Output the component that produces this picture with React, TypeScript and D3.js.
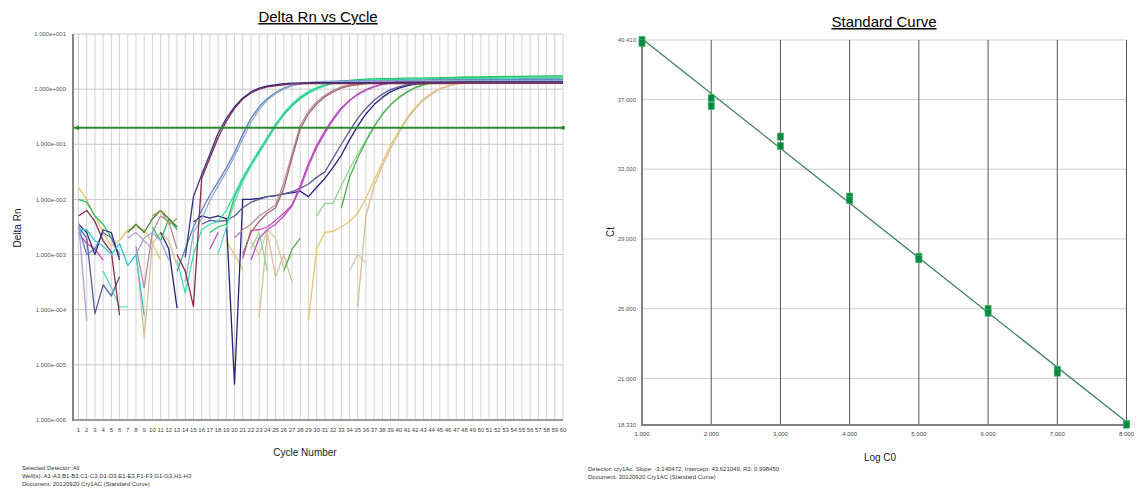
import React from 'react';
import * as d3 from 'd3';

const _ = null;

// ---------- Amplification plot data (log10 Delta Rn per cycle 1..60, null = not plotted) ----------
const cycles: number[] = [
  1, 2, 3, 4, 5, 6, 7, 8, 9, 10, 11, 12, 13, 14, 15, 16, 17, 18, 19, 20,
  21, 22, 23, 24, 25, 26, 27, 28, 29, 30, 31, 32, 33, 34, 35, 36, 37, 38, 39, 40,
  41, 42, 43, 44, 45, 46, 47, 48, 49, 50, 51, 52, 53, 54, 55, 56, 57, 58, 59, 60,
];
const xTickLabels: string[] = cycles.map(String);
const yTickValues: number[] = [10, 1, 0.1, 0.01, 0.001, 0.0001, 0.00001, 0.000001];
const yTickLabels: string[] = ['1.000e+001', '1.000e+000', '1.000e-001', '1.000e-002', '1.000e-003', '1.000e-004', '1.000e-005', '1.000e-006'];
const threshold = 0.2;

const wellA1 = [
  -2.45, -2.6, -3.0, -2.55, -2.6, -3.1, _, _, _, _,
  _, _, _, -3.05, -1.95, -1.55, -1.18, -0.8, -0.53, -0.32,
  -0.16, -0.05, 0.02, 0.06, 0.08, 0.1, 0.11, 0.115, 0.12, 0.12,
  0.12, 0.12, 0.12, 0.12, 0.12, 0.12, 0.12, 0.12, 0.12, 0.125,
  0.125, 0.125, 0.125, 0.125, 0.125, 0.125, 0.13, 0.13, 0.13, 0.13,
  0.13, 0.13, 0.13, 0.13, 0.13, 0.13, 0.13, 0.13, 0.13, 0.13,
];
const wellA2 = [
  -2.3, -2.2, -2.4, -2.75, -2.95, -4.1, _, _, _, _,
  _, _, -3.0, -3.3, -3.94, -1.62, -1.25, -0.88, -0.58, -0.35,
  -0.18, -0.07, 0.0, 0.04, 0.06, 0.08, 0.09, 0.095, 0.1, 0.1,
  0.1, 0.1, 0.1, 0.1, 0.1, 0.1, 0.1, 0.1, 0.1, 0.1,
  0.1, 0.1, 0.1, 0.1, 0.1, 0.1, 0.105, 0.105, 0.105, 0.105,
  0.105, 0.105, 0.105, 0.105, 0.105, 0.105, 0.105, 0.105, 0.105, 0.105,
];
const wellB1 = [
  -2.5, -3.0, -2.9, -2.6, -2.7, -3.05, _, _, _, _,
  _, _, -3.3, -2.9, -2.5, -2.2, -1.92, -1.68, -1.43, -1.15,
  -0.82, -0.53, -0.32, -0.17, -0.06, 0.02, 0.07, 0.1, 0.12, 0.13,
  0.14, 0.14, 0.15, 0.15, 0.15, 0.15, 0.155, 0.155, 0.16, 0.16,
  0.16, 0.16, 0.16, 0.165, 0.165, 0.165, 0.165, 0.17, 0.17, 0.17,
  0.17, 0.17, 0.17, 0.17, 0.17, 0.17, 0.17, 0.17, 0.17, 0.17,
];
const wellB2 = [
  _, _, _, _, _, _, _, -3.0, -2.7, -2.6,
  -2.75, -3.1, _, -3.5, -2.6, -2.35, -2.02, -1.76, -1.5, -1.22,
  -0.9, -0.6, -0.37, -0.2, -0.08, 0.0, 0.06, 0.09, 0.11, 0.13,
  0.13, 0.14, 0.14, 0.14, 0.145, 0.145, 0.145, 0.15, 0.15, 0.15,
  0.15, 0.15, 0.155, 0.155, 0.155, 0.155, 0.155, 0.16, 0.16, 0.16,
  0.16, 0.16, 0.16, 0.16, 0.16, 0.16, 0.16, 0.16, 0.16, 0.16,
];
const wellC1 = [
  -2.0, -2.05, -2.3, -2.45, -2.7, -3.0, _, _, _, -2.5,
  -2.75, -2.35, -2.55, _, _, _, -2.6, -2.5, -2.45, -1.95,
  -1.63, -1.36, -1.13, -0.89, -0.65, -0.45, -0.29, -0.16, -0.06, 0.02,
  0.07, 0.11, 0.14, 0.16, 0.17, 0.18, 0.185, 0.19, 0.19, 0.195,
  0.2, 0.2, 0.2, 0.205, 0.21, 0.21, 0.215, 0.22, 0.22, 0.22,
  0.225, 0.225, 0.23, 0.23, 0.23, 0.235, 0.235, 0.24, 0.24, 0.24,
];
const wellC2 = [
  _, _, _, _, _, _, _, _, _, _,
  _, _, -3.1, -3.7, -3.0, -2.55, -2.45, -2.4, -2.2, -1.9,
  -1.6, -1.35, -1.1, -0.87, -0.63, -0.43, -0.27, -0.14, -0.04, 0.03,
  0.08, 0.12, 0.14, 0.15, 0.16, 0.165, 0.17, 0.17, 0.175, 0.175,
  0.18, 0.18, 0.18, 0.185, 0.185, 0.185, 0.19, 0.19, 0.19, 0.19,
  0.195, 0.195, 0.195, 0.195, 0.2, 0.2, 0.2, 0.2, 0.2, 0.2,
];
const wellC3 = [
  _, _, _, -3.3, -3.6, -3.95, -3.95, _, _, _,
  _, _, _, _, _, _, _, -3.0, -2.5, -2.05,
  -1.68, -1.4, -1.16, -0.92, -0.68, -0.47, -0.31, -0.18, -0.08, 0.0,
  0.06, 0.1, 0.13, 0.15, 0.16, 0.17, 0.175, 0.18, 0.18, 0.185,
  0.19, 0.19, 0.19, 0.195, 0.195, 0.2, 0.2, 0.2, 0.205, 0.205,
  0.21, 0.21, 0.21, 0.215, 0.215, 0.215, 0.22, 0.22, 0.22, 0.22,
];
const wellD1 = [
  _, _, _, _, _, _, _, -2.85, -3.6, -2.6,
  -2.3, -2.4, -2.9, _, _, _, _, _, _, -2.7,
  -2.55, -2.45, -2.3, -2.2, -2.1, -1.7, -1.18, -0.66, -0.4, -0.23,
  -0.11, -0.02, 0.04, 0.08, 0.1, 0.12, 0.13, 0.135, 0.14, 0.14,
  0.14, 0.145, 0.145, 0.145, 0.15, 0.15, 0.15, 0.15, 0.155, 0.155,
  0.155, 0.155, 0.155, 0.16, 0.16, 0.16, 0.16, 0.16, 0.16, 0.16,
];
const wellD2 = [
  _, _, _, _, _, _, _, _, _, _,
  _, _, _, _, _, _, _, _, _, _,
  -3.0, -2.6, -2.4, -2.25, -2.15, -1.8, -1.25, -0.72, -0.45, -0.27,
  -0.14, -0.05, 0.02, 0.06, 0.08, 0.1, 0.11, 0.11, 0.115, 0.115,
  0.115, 0.115, 0.12, 0.12, 0.12, 0.12, 0.12, 0.12, 0.12, 0.12,
  0.12, 0.12, 0.12, 0.12, 0.12, 0.12, 0.12, 0.12, 0.12, 0.12,
];
const wellE1 = [
  -2.6, -2.8, -2.9, -3.1, _, _, _, _, _, _,
  _, _, _, _, _, _, _, _, _, _,
  -3.07, -2.56, -2.55, -2.5, -2.38, -2.25, -2.1, -1.75, -1.35, -1.02,
  -0.76, -0.53, -0.34, -0.2, -0.09, -0.01, 0.05, 0.09, 0.12, 0.14,
  0.15, 0.16, 0.165, 0.17, 0.17, 0.175, 0.175, 0.18, 0.18, 0.18,
  0.185, 0.185, 0.185, 0.185, 0.19, 0.19, 0.19, 0.19, 0.19, 0.19,
];
const wellE2 = [
  _, _, _, _, _, _, _, _, _, _,
  _, _, _, _, _, _, -2.9, -2.6, _, _,
  _, -3.1, -2.7, -2.55, -2.45, -2.3, -2.12, -1.8, -1.4, -1.06,
  -0.8, -0.56, -0.36, -0.21, -0.1, -0.02, 0.04, 0.08, 0.11, 0.13,
  0.14, 0.15, 0.155, 0.16, 0.16, 0.165, 0.165, 0.17, 0.17, 0.17,
  0.175, 0.175, 0.175, 0.175, 0.18, 0.18, 0.18, 0.18, 0.18, 0.18,
];
const wellF1 = [
  _, _, _, _, _, _, _, _, _, _,
  -2.6, -2.9, -3.97, _, -2.41, -2.3, -2.34, -2.3, -2.35, -5.35,
  -2.0, -2.0, -1.98, -1.95, -1.93, -1.9, -1.88, -1.85, -1.95, -1.78,
  -1.62, -1.42, -1.2, -0.92, -0.67, -0.45, -0.28, -0.15, -0.05, 0.02,
  0.06, 0.09, 0.1, 0.11, 0.12, 0.12, 0.125, 0.125, 0.13, 0.13,
  0.13, 0.13, 0.13, 0.13, 0.135, 0.135, 0.135, 0.135, 0.135, 0.135,
];
const wellF2 = [
  -2.5, -2.7, -4.07, -3.55, -3.75, -3.4, _, _, _, _,
  _, _, _, _, _, -2.45, -2.38, -2.4, -2.38, -2.3,
  -2.15, -2.05, -2.0, -1.95, -1.93, -1.9, -1.86, -1.8, -1.72, -1.6,
  -1.5, -1.25, -1.0, -0.76, -0.53, -0.35, -0.2, -0.09, -0.01, 0.04,
  0.08, 0.1, 0.11, 0.12, 0.12, 0.125, 0.125, 0.13, 0.13, 0.13,
  0.13, 0.13, 0.135, 0.135, 0.135, 0.135, 0.14, 0.14, 0.14, 0.14,
];
const wellF3 = [
  _, _, _, _, _, _, _, _, _, _,
  _, _, _, _, _, _, _, _, _, _,
  _, -2.75, -3.0, -2.55, -2.7, -3.25, -3.0, _, _, _,
  _, _, _, -3.3, -3.0, -3.15, _, _, _, _,
  _, _, _, _, _, _, _, _, _, _,
  _, _, _, _, _, _, _, _, _, _,
];
const wellG1 = [
  _, _, _, _, _, _, _, _, _, _,
  _, _, _, _, _, _, _, _, _, _,
  _, -2.9, -2.6, -3.3, _, _, _, _, _, -2.3,
  -2.07, -2.07, -1.75, -1.45, -1.18, -0.92, -0.68, -0.46, -0.29, -0.16,
  -0.06, 0.02, 0.07, 0.11, 0.14, 0.16, 0.17, 0.18, 0.185, 0.19,
  0.195, 0.2, 0.2, 0.205, 0.21, 0.21, 0.215, 0.215, 0.22, 0.22,
];
const wellG2 = [
  _, _, _, _, _, _, _, _, _, _,
  _, _, _, _, _, _, _, _, _, _,
  _, _, _, _, _, -3.3, -2.9, -2.7, _, _,
  _, _, -2.16, -1.6, -1.25, -0.95, -0.68, -0.45, -0.28, -0.15,
  -0.05, 0.03, 0.08, 0.12, 0.14, 0.15, 0.16, 0.17, 0.175, 0.18,
  0.18, 0.185, 0.185, 0.19, 0.19, 0.195, 0.195, 0.2, 0.2, 0.2,
];
const wellH1 = [
  -1.78, -2.0, -2.3, -2.6, -2.85, -2.74, -2.55, -2.5, -2.55, -2.8,
  -3.1, _, _, _, _, _, _, _, -2.75, -3.0,
  -3.28, _, _, _, _, _, _, _, -4.2, -2.9,
  -2.6, -2.58, -2.5, -2.4, -2.25, -1.98, -1.65, -1.33, -1.02, -0.76,
  -0.52, -0.33, -0.18, -0.07, 0.01, 0.06, 0.09, 0.11, 0.12, 0.13,
  0.13, 0.135, 0.14, 0.14, 0.14, 0.145, 0.145, 0.15, 0.15, 0.15,
];
const wellH2 = [
  _, _, _, _, _, _, _, -2.9, -4.5, -2.8,
  -2.6, -2.75, -3.2, _, _, _, _, _, _, _,
  _, _, -4.14, -2.6, -3.4, -3.0, -3.5, _, _, _,
  _, _, _, _, -3.95, -2.3, -1.75, -1.4, -1.08, -0.8,
  -0.55, -0.36, -0.2, -0.09, 0.0, 0.05, 0.09, 0.11, 0.12, 0.13,
  0.135, 0.14, 0.14, 0.145, 0.15, 0.15, 0.155, 0.155, 0.16, 0.16,
];
const wellA3 = [
  -2.55, -2.55, -2.75, -2.85, -3.0, -2.8, -3.2, -3.0, -4.1, _,
  _, _, _, _, _, _, _, _, _, _,
  _, _, _, _, _, _, _, _, _, _,
  _, _, _, _, _, _, _, _, _, _,
  _, _, _, _, _, _, _, _, _, _,
  _, _, _, _, _, _, _, _, _, _,
];
const wellB3 = [
  -2.4, -4.2, _, _, _, _, -2.7, -2.6, -2.75, -2.9,
  _, _, _, _, _, _, _, _, _, _,
  _, _, _, _, _, _, _, _, _, _,
  _, _, _, _, _, _, _, _, _, _,
  _, _, _, _, _, _, _, _, _, _,
  _, _, _, _, _, _, _, _, _, _,
];
const wellD3 = [
  _, _, _, _, _, _, -2.6, -2.45, -2.6, -2.35,
  -2.2, -2.35, -2.5, _, _, _, _, _, _, _,
  _, _, _, _, _, _, _, _, _, _,
  _, _, _, _, _, _, _, _, _, _,
  _, _, _, _, _, _, _, _, _, _,
  _, _, _, _, _, _, _, _, _, _,
];
const wellE3 = [
  _, _, _, _, _, _, _, _, _, -2.3,
  -2.2, -2.45, -2.35, _, _, _, _, _, _, _,
  _, _, _, _, _, _, _, _, _, _,
  _, _, _, _, _, _, _, _, _, _,
  _, _, _, _, _, _, _, _, _, _,
  _, _, _, _, _, _, _, _, _, _,
];

const wells = [
  { name: 'F3', color: '#dcc7a4', values: wellF3 },
  { name: 'H1', color: '#e6c46e', values: wellH1 },
  { name: 'H2', color: '#d9bd96', values: wellH2 },
  { name: 'G1', color: '#8fd88f', values: wellG1 },
  { name: 'G2', color: '#4caf50', values: wellG2 },
  { name: 'F1', color: '#24237a', values: wellF1 },
  { name: 'F2', color: '#585c96', values: wellF2 },
  { name: 'E1', color: '#d23fb4', values: wellE1 },
  { name: 'E2', color: '#b052c8', values: wellE2 },
  { name: 'D1', color: '#b88a9c', values: wellD1 },
  { name: 'D2', color: '#9c6a60', values: wellD2 },
  { name: 'C3', color: '#5fd9c4', values: wellC3 },
  { name: 'C1', color: '#22c35c', values: wellC1 },
  { name: 'C2', color: '#3de0a8', values: wellC2 },
  { name: 'B1', color: '#5b7fc4', values: wellB1 },
  { name: 'B2', color: '#93a9cc', values: wellB2 },
  { name: 'A2', color: '#8b2a4a', values: wellA2 },
  { name: 'A1', color: '#3b2e7e', values: wellA1 },
  { name: 'A3', color: '#35c6d6', values: wellA3 },
  { name: 'B3', color: '#b8a0d8', values: wellB3 },
  { name: 'D3', color: '#3a7a3a', values: wellD3 },
  { name: 'E3', color: '#9aa050', values: wellE3 },
];

// ---------- Standard curve data ----------
const logC0: number[] = [1, 1, 2, 2, 3, 3, 4, 4, 5, 5, 6, 6, 7, 7, 8, 8];
const ctValues: number[] = [40.41, 40.25, 37.07, 36.63, 34.87, 34.33, 31.43, 31.24, 27.98, 27.84, 24.99, 24.77, 21.49, 21.33, 18.4, 18.35];
const slope = -3.140472;
const intercept = 43.621049;
const scXTicks: number[] = [1, 2, 3, 4, 5, 6, 7, 8];
const scXTickLabels: string[] = ['1.000', '2.000', '3.000', '4.000', '5.000', '6.000', '7.000', '8.000'];
const scYTicks: number[] = [40.41, 37, 33, 29, 25, 21, 18.33];
const scYTickLabels: string[] = ['40.410', '37.000', '33.000', '29.000', '25.000', '21.000', '18.330'];

const FONT = 'Arial, "Liberation Sans", sans-serif';

export default function App() {
  // Left chart scales
  const L = { left: 73, right: 563, top: 34, bottom: 420 };
  const xL = d3.scaleLinear().domain([1, 60]).range([78.5, 563]);
  const yL = d3.scaleLog().domain([1e-6, 10]).range([L.bottom, L.top]);
  const line = d3
    .line<number | null>()
    .defined((v) => v !== null)
    .x((_v, i) => xL(cycles[i]))
    .y((v) => yL(Math.pow(10, v as number)));

  // Right chart scales
  const R = { left: 642, right: 1126.5, top: 40, bottom: 425 };
  const xR = d3.scaleLinear().domain([1, 8]).range([R.left, R.right]);
  const yR = d3.scaleLinear().domain([18.33, 40.41]).range([R.bottom, R.top]);

  const thY = yL(threshold);

  return (
    <svg width={1137} height={498} style={{ position: 'absolute', left: 0, top: 0, background: '#fff' }} fontFamily={FONT}>
      <rect x={0} y={0} width={1137} height={498} fill="#fff" />
      <defs>
        <clipPath id="clipL">
          <rect x={L.left} y={L.top - 1} width={L.right - L.left + 1} height={L.bottom - L.top + 1} />
        </clipPath>
      </defs>

      {/* ===== Left chart ===== */}
      <text x={318} y={22} textAnchor="middle" fontSize={15} fill="#000" textDecoration="underline">Delta Rn vs Cycle</text>
      {cycles.map((c) => (
        <line key={'vg' + c} x1={xL(c)} x2={xL(c)} y1={L.top} y2={L.bottom} stroke="#d2d2d2" strokeWidth={1} />
      ))}
      {yTickValues.map((v) => (
        <line key={'hg' + v} x1={L.left} x2={L.right} y1={yL(v)} y2={yL(v)} stroke="#c8c8c8" strokeWidth={1} />
      ))}
      <g clipPath="url(#clipL)">
        {wells.map((w) => (
          <path key={w.name} d={line(w.values) || ''} fill="none" stroke={w.color} strokeWidth={1.3} strokeLinejoin="round" />
        ))}
      </g>
      <line x1={L.left} x2={L.right} y1={thY} y2={thY} stroke="#2f8a2f" strokeWidth={2} />
      <path d={`M${L.left + 1},${thY} l5,-2.5 l0,5 z`} fill="#2f8a2f" />
      <circle cx={L.right} cy={thY} r={2} fill="#2f8a2f" />
      <line x1={L.left} x2={L.left} y1={L.top} y2={L.bottom + 1} stroke="#858585" strokeWidth={2} />
      <line x1={L.left} x2={L.right} y1={L.bottom} y2={L.bottom} stroke="#858585" strokeWidth={1.5} />
      {yTickValues.map((v, i) => (
        <text key={'yl' + v} x={66} y={yL(v)} dy="0.35em" textAnchor="end" fontSize={6} fill="#555">{yTickLabels[i]}</text>
      ))}
      {cycles.map((c, i) => (
        <text key={'xl' + c} x={xL(c)} y={432} textAnchor="middle" fontSize={6} fill="#444">{xTickLabels[i]}</text>
      ))}
      <text transform="translate(21,228) rotate(-90)" textAnchor="middle" fontSize={10} fill="#222">Delta Rn</text>
      <text x={305} y={456} textAnchor="middle" fontSize={10} fill="#222">Cycle Number</text>
      <g fontSize={6} fill="#333">
        <text x={22} y={470}>Selected Detector: All</text>
        <text x={22} y={478}>Well(s): A1-A3,B1-B3,C1-C3,D1-D3,E1-E3,F1-F3,G1-G3,H1-H3</text>
        <text x={22} y={485.5}>Document: 20120920 Cry1AC (Standard Curve)</text>
      </g>

      {/* ===== Right chart ===== */}
      <text x={884} y={27} textAnchor="middle" fontSize={15} fill="#000" textDecoration="underline">Standard Curve</text>
      {scYTicks.map((v) => (
        <line key={'rh' + v} x1={R.left} x2={R.right} y1={yR(v)} y2={yR(v)} stroke="#cdcdcd" strokeWidth={1} />
      ))}
      {scXTicks.slice(1).map((v) => (
        <line key={'rv' + v} x1={xR(v)} x2={xR(v)} y1={R.top} y2={R.bottom} stroke="#555" strokeWidth={1} />
      ))}
      <line x1={R.left} x2={R.left} y1={R.top} y2={R.bottom + 1} stroke="#808080" strokeWidth={2} />
      <line x1={R.left} x2={R.right} y1={R.bottom} y2={R.bottom} stroke="#808080" strokeWidth={2} />
      <line x1={xR(1)} x2={xR(8)} y1={yR(intercept + slope * 1)} y2={yR(intercept + slope * 8)} stroke="#3b7f58" strokeWidth={1.3} />
      {logC0.map((x, i) => (
        <rect key={'pt' + i} x={xR(x) - 3} y={yR(ctValues[i]) - 3.5} width={6} height={7} fill="#05893f" stroke="#3fb271" strokeWidth={0.7} />
      ))}
      {scYTicks.map((v, i) => (
        <text key={'ryl' + v} x={636} y={yR(v)} dy="0.35em" textAnchor="end" fontSize={6} fill="#555">{scYTickLabels[i]}</text>
      ))}
      {scXTicks.map((v, i) => (
        <text key={'rxl' + v} x={xR(v)} y={436} textAnchor="middle" fontSize={6} fill="#444">{scXTickLabels[i]}</text>
      ))}
      <text transform="translate(614,232) rotate(-90)" textAnchor="middle" fontSize={10} fill="#222">Ct</text>
      <text x={880} y={461} textAnchor="middle" fontSize={10} fill="#222">Log C0</text>
      <g fontSize={6} fill="#333">
        <text x={588} y={471}>Detector: cry1Ac, Slope:  -3.140472, Intercept:  43.621049, R2:  0.998450</text>
        <text x={588} y={478.5}>Document: 20120920 Cry1AC (Standard Curve)</text>
      </g>
    </svg>
  );
}
